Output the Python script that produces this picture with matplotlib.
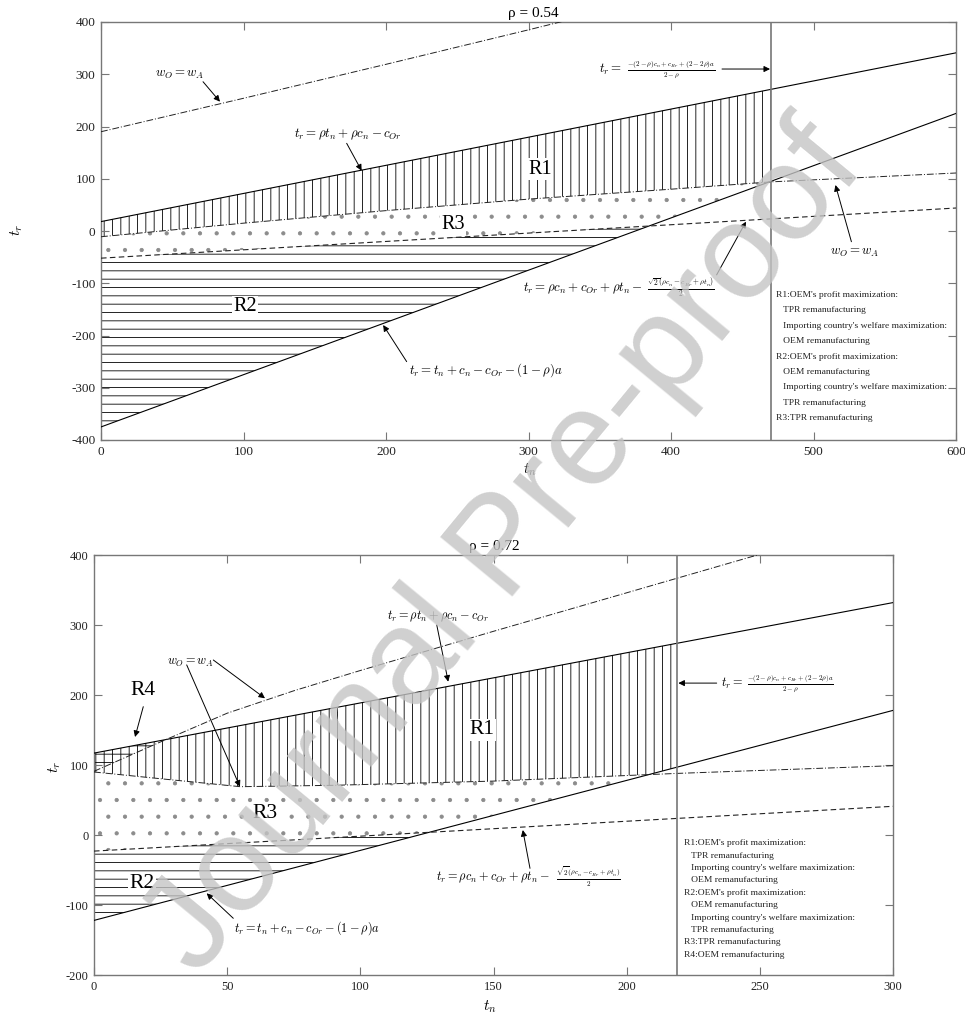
import numpy as np
import matplotlib
matplotlib.use("Agg")
import matplotlib.pyplot as plt

plt.rcParams['font.family'] = ['Liberation Serif', 'DejaVu Serif']
plt.rcParams['mathtext.fontset'] = 'cm'
plt.rcParams['axes.unicode_minus'] = False
plt.rcParams['hatch.linewidth'] = 0.6
plt.rcParams['hatch.color'] = 'black'

# ---------------- data: rho = 0.54 ----------------
rho_top = 0.54
tn_lin_top = [0, 600]
l1_top = [18, 341]            # t_r = rho t_n + rho c_n - c_Or
l3_top = [-375, 225]          # t_r = t_n + c_n - c_Or - (1-rho)a
dash_top = [-52, 44]          # t_r = rho c_n + c_Or + rho t_n - ...
tn_up_top = [0, 100, 200, 300, 340]
wup_top = [190, 254, 319, 385, 412]      # w_O = w_A (upper branch)
tn_low_top = [0, 100, 200, 300, 400, 470, 600]
wlow_top = [-11, 15, 39, 61, 80, 94, 111]  # w_O = w_A (lower branch)
vline_top = 470
xt_top = [0, 100, 200, 300, 400, 500, 600]
yt_top = [-400, -300, -200, -100, 0, 100, 200, 300, 400]

# ---------------- data: rho = 0.72 ----------------
rho_bot = 0.72
tn_lin_bot = [0, 300]
l1_bot = [117, 332]
l3_bot = [-122, 178]
dash_bot = [-23, 41]
tn_up_bot = [0, 25, 50, 75, 100, 150, 200, 250]
wup_bot = [91, 133, 174, 206, 235, 291, 346, 401]
tn_low_bot = [0, 26, 55, 90, 150, 219, 300]
wlow_bot = [90, 80, 69, 71, 77, 88, 99]
vline_bot = 219
xt_bot = [0, 50, 100, 150, 200, 250, 300]
yt_bot = [-200, -100, 0, 100, 200, 300, 400]

legend_top = ["R1:OEM's profit maximization:", "   TPR remanufacturing",
              "   Importing country's welfare maximization:", "   OEM remanufacturing",
              "R2:OEM's profit maximization:", "   OEM remanufacturing",
              "   Importing country's welfare maximization:", "   TPR remanufacturing",
              "R3:TPR remanufacturing"]
legend_bot = legend_top + ["R4:OEM remanufacturing"]

F_L1 = r'$t_r=\rho t_n+\rho c_n-c_{Or}$'
F_L3 = r'$t_r=t_n+c_n-c_{Or}-(1-\rho)a$'
F_DASH_A = r'$t_r=\rho c_n+c_{Or}+\rho t_n-$'
F_DASH_B = r'$\frac{\sqrt{2}(\rho c_n-c_{Rr}+\rho t_n)}{2}$'
F_V_A = r'$t_r=$'
F_V_B = r'$\frac{-(2-\rho)c_n+c_{Rr}+(2-2\rho)a}{2-\rho}$'
F_W = r'$w_O=w_A$'

W, H = 965, 1014
fig = plt.figure(figsize=(W / 100, H / 100), dpi=100)

def ax_rect(l, r, t, b):
    return [l / W, 1 - b / H, (r - l) / W, (b - t) / H]

ax1 = fig.add_axes(ax_rect(101, 956, 22, 440))
ax2 = fig.add_axes(ax_rect(94, 893, 555, 975))

SOLID = dict(color='black', lw=0.8)
DD = dict(color='#222222', lw=0.7, linestyle=(0, (7, 2, 1, 2)))
DSH = dict(color='#222222', lw=0.8, linestyle=(0, (5, 3)))
ARW = dict(arrowstyle='-|>', color='black', lw=0.7, mutation_scale=9, shrinkA=0, shrinkB=0)
RBOX = dict(facecolor='white', edgecolor='none', pad=1)

def style(ax, xt, yt, xl, yl, lsize):
    ax.set_xlim(xl)
    ax.set_ylim(yl)
    ax.set_xticks(xt)
    ax.set_yticks(yt)
    for s in ax.spines.values():
        s.set_color('#777777')
        s.set_linewidth(1.0)
    ax.tick_params(direction='in', top=True, right=True, length=6, width=0.8,
                   color='#777777', labelsize=lsize, labelcolor='#222222', pad=4)

def hatch_fill(ax, x, lo, hi, hatch, where=None, interp=False, color='black'):
    ax.fill_between(x, lo, hi, where=where, interpolate=interp, facecolor='none',
                    edgecolor=color, linewidth=0, hatch=hatch, zorder=1)

def split_formula(ax, xa, xb, y, a, b, fa, fb):
    ax.text(xa, y, a, ha='right', va='center', fontsize=fa)
    ax.text(xb, y, b, ha='left', va='center', fontsize=fb)

# ================= top panel =================
ax = ax1
style(ax, xt_top, yt_top, (0, 600), (-400, 400), 9.5)
xs = np.linspace(0, 600, 2401)
L1 = np.interp(xs, tn_lin_top, l1_top)
L3 = np.interp(xs, tn_lin_top, l3_top)
DS = np.interp(xs, tn_lin_top, dash_top)
WL = np.interp(xs, tn_low_top, wlow_top)
m = xs <= vline_top
hatch_fill(ax, xs[m], WL[m], L1[m], '||')
bot3 = np.maximum(DS, L3)
hatch_fill(ax, xs[m], bot3[m], WL[m], '.', where=(WL[m] >= bot3[m]), color='#8c8c8c')
hatch_fill(ax, xs, L3, DS, '--', where=(DS >= L3), interp=True)

ax.plot(tn_lin_top, l1_top, **SOLID, zorder=3)
ax.plot(tn_lin_top, l3_top, **SOLID, zorder=3)
ax.plot(tn_lin_top, dash_top, **DSH, zorder=3)
ax.plot(tn_up_top, wup_top, **DD, zorder=3)
ax.plot(tn_low_top, wlow_top, **DD, zorder=3)
ax.axvline(vline_top, color='#777777', lw=1.2, zorder=3)

ax.text(0.506, 1 + 9 / 418, u'\u03c1 = %.2f' % rho_top, transform=ax.transAxes,
        ha='center', va='center', fontsize=11)
ax.text(0.502, -30 / 418, r'$t_n$', transform=ax.transAxes, ha='center', va='center', fontsize=11)
ax.text(-84 / 855, 0.502, r'$t_r$', transform=ax.transAxes, ha='center', va='center',
        fontsize=11, rotation=90)

FT = 9.3
ax.text(55.4, 298.6, F_W, ha='center', va='center', fontsize=FT)
ax.annotate('', xy=(83.5, 247.5), xytext=(71.6, 285.7), arrowprops=ARW)
ax.text(173.3, 185.6, F_L1, ha='center', va='center', fontsize=FT)
ax.annotate('', xy=(182.9, 115.4), xytext=(172.4, 167.8), arrowprops=ARW)
ax.text(270, -266, F_L3, ha='center', va='center', fontsize=FT)
ax.annotate('', xy=(198, -180), xytext=(214.5, -250), arrowprops=ARW)
split_formula(ax, 380.4, 383.2, -109.5, F_DASH_A, F_DASH_B, FT, 7.8)
ax.annotate('', xy=(452.6, 17.8), xytext=(432, -84), arrowprops=ARW)
ax.text(529, -41.5, F_W, ha='center', va='center', fontsize=FT)
ax.annotate('', xy=(515.4, 88), xytext=(526.6, -20.5), arrowprops=ARW)
split_formula(ax, 365.6, 369.1, 310, F_V_A, F_V_B, FT, 7.3)
ax.annotate('', xy=(469.5, 310), xytext=(435.8, 310), arrowprops=ARW)

ax.text(308, 118, 'R1', ha='center', va='center', fontsize=14.5, bbox=RBOX, zorder=4)
ax.text(247, 11.5, 'R3', ha='center', va='center', fontsize=14.5, bbox=RBOX, zorder=4)
ax.text(101, -145, 'R2', ha='center', va='center', fontsize=14.5, bbox=RBOX, zorder=4)

for i, s in enumerate(legend_top):
    ax.text((776 - 101) / 855, (440 - (295 + 15.4 * i)) / 418, s, transform=ax.transAxes,
            ha='left', va='center', fontsize=6.8, color='#222222')

# ================= bottom panel =================
ax = ax2
style(ax, xt_bot, yt_bot, (0, 300), (-200, 400), 9)
xs = np.linspace(0, 300, 2401)
L1 = np.interp(xs, tn_lin_bot, l1_bot)
L3 = np.interp(xs, tn_lin_bot, l3_bot)
DS = np.interp(xs, tn_lin_bot, dash_bot)
WL = np.interp(xs, tn_low_bot, wlow_bot)
WU = np.interp(xs, tn_up_bot, wup_bot)
m = xs <= vline_bot
bot1 = np.maximum(WL, L3)
hatch_fill(ax, xs[m], bot1[m], L1[m], '||')
m4 = xs <= 40
hatch_fill(ax, xs[m4], WU[m4], L1[m4], '--', where=(WU[m4] <= L1[m4]), interp=True)
bot3 = np.maximum(DS, L3)
hatch_fill(ax, xs[m], bot3[m], WL[m], '.', where=(WL[m] >= bot3[m]), color='#8c8c8c')
hatch_fill(ax, xs, L3, DS, '--', where=(DS >= L3), interp=True)

ax.plot(tn_lin_bot, l1_bot, **SOLID, zorder=3)
ax.plot(tn_lin_bot, l3_bot, **SOLID, zorder=3)
ax.plot(tn_lin_bot, dash_bot, **DSH, zorder=3)
ax.plot(tn_up_bot, wup_bot, **DD, zorder=3)
ax.plot(tn_low_bot, wlow_bot, **DD, zorder=3)
ax.axvline(vline_bot, color='#777777', lw=1.2, zorder=3)

ax.text(0.5006, 1 + 8.3 / 420, u'\u03c1 = %.2f' % rho_bot, transform=ax.transAxes,
        ha='center', va='center', fontsize=11)
ax.text(0.4956, -32 / 420, r'$t_n$', transform=ax.transAxes, ha='center', va='center', fontsize=11)
ax.text(-39 / 799, 0.495, r'$t_r$', transform=ax.transAxes, ha='center', va='center',
        fontsize=11, rotation=90)

FB = 8.8
ax.text(36, 245.3, F_W, ha='center', va='center', fontsize=FB)
ax.annotate('', xy=(64.2, 195.3), xytext=(44.8, 250), arrowprops=ARW)
ax.annotate('', xy=(54.8, 69), xytext=(34.8, 243), arrowprops=ARW)
ax.annotate('', xy=(15.4, 140), xytext=(18.5, 183.3), arrowprops=ARW)
ax.text(129, 312.9, F_L1, ha='center', va='center', fontsize=FB)
ax.annotate('', xy=(133, 219), xytext=(128.7, 300), arrowprops=ARW)
ax.text(79.9, -133.3, F_L3, ha='center', va='center', fontsize=FB)
ax.annotate('', xy=(42.3, -83.3), xytext=(52.3, -119), arrowprops=ARW)
split_formula(ax, 171.2, 173.5, -60.4, F_DASH_A, F_DASH_B, FB, 7.3)
ax.annotate('', xy=(161, 7.1), xytext=(163.7, -47.6), arrowprops=ARW)
split_formula(ax, 243.8, 245.1, 216.7, F_V_A, F_V_B, FB, 7.2)
ax.annotate('', xy=(219.4, 217), xytext=(233.8, 217), arrowprops=ARW)

ax.text(18.5, 207, 'R4', ha='center', va='center', fontsize=15.5)
ax.text(145.7, 150, 'R1', ha='center', va='center', fontsize=15.5, bbox=RBOX, zorder=4)
ax.text(64.2, 31, 'R3', ha='center', va='center', fontsize=15.5, bbox=RBOX, zorder=4)
ax.text(17.9, -69, 'R2', ha='center', va='center', fontsize=15.5, bbox=RBOX, zorder=4)

for i, s in enumerate(legend_bot):
    ax.text((684 - 94) / 799, (975 - (843.3 + 12.4 * i)) / 420, s, transform=ax.transAxes,
            ha='left', va='center', fontsize=6.8, color='#222222')

# watermark
fig.text(505 / W, 1 - 550 / H, 'Journal Pre-proof', rotation=50.5, rotation_mode='anchor',
         ha='center', va='center', fontsize=98, family=['Liberation Sans', 'DejaVu Sans'],
         color='#c4c4c4', alpha=0.8, zorder=10)

fig.savefig('out.png', dpi=100)
